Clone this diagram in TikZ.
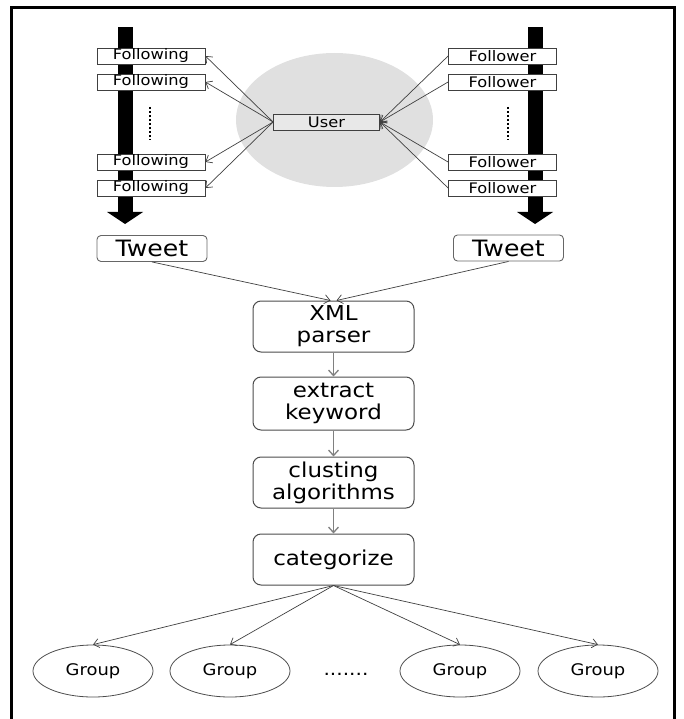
\documentclass[tikz,border=0pt]{standalone}
\usepackage{fontspec}
\setmainfont{DejaVu Sans}[FakeStretch=1.12]
\usetikzlibrary{arrows.meta,shapes.geometric}
\begin{document}
\begin{tikzpicture}[x=1pt,y=-1pt,
  smallbox/.style={draw=black!75, line width=0.8pt, fill=white, minimum width=108pt, minimum height=16pt, inner sep=0pt, font=\fontsize{14.5}{15}\selectfont},
  userbox/.style={smallbox, fill=black!9, minimum width=106pt},
  tweetbox/.style={draw=black!60, line width=0.9pt, rounded corners=4pt, fill=white, minimum width=110pt, minimum height=26pt, inner sep=0pt, font=\fontsize{22.5}{24}\selectfont},
  procbox/.style={draw=black!70, line width=1pt, rounded corners=8pt, fill=white, minimum width=161pt, minimum height=51pt, inner sep=0pt, align=center, font=\fontsize{20.5}{22}\selectfont},
  groupnode/.style={ellipse, draw=black!70, line width=0.8pt, minimum width=120pt, minimum height=52pt, inner sep=0pt, font=\fontsize{16}{17}\selectfont},
  conn/.style={draw=black!75, line width=0.7pt, -{Straight Barb[length=5.5pt,width=9pt]}},
  vconn/.style={draw=black!50, line width=1.3pt, -{Straight Barb[length=5.5pt,width=10pt]}},
  thickarrow/.style={fill=black},
  dotline/.style={line width=2.6pt, dash pattern=on 2pt off 2pt}
]
\useasboundingbox (0,0) rectangle (683,719);
% frame
\draw[line width=3pt] (11,8) rectangle (674,740);
% gray circle
\fill[black!12] (334.5,120) ellipse [x radius=98.5pt, y radius=67pt];
% thick arrows
\fill[thickarrow] (117.5,27) rectangle (132.5,212);
\fill[thickarrow] (107,212) -- (143,212) -- (125,224) -- cycle;
\fill[thickarrow] (527.5,27) rectangle (542.5,212);
\fill[thickarrow] (517,212) -- (553,212) -- (535,224) -- cycle;
% vertical dots
\draw[dotline] (150,107) -- (150,140);
\draw[dotline] (508,107) -- (508,140);
% following boxes
\node[smallbox] (fol1) at (151,56) {Following};
\node[smallbox] (fol2) at (151,82) {Following};
\node[smallbox] (fol3) at (151,162) {Following};
\node[smallbox] (fol4) at (151,188) {Following};
% follower boxes
\node[smallbox] (flw1) at (502.5,56) {Follower};
\node[smallbox] (flw2) at (502.5,82) {Follower};
\node[smallbox] (flw3) at (502.5,162) {Follower};
\node[smallbox] (flw4) at (502.5,188) {Follower};
% user
\node[userbox] (user) at (326.5,122) {User};
% tweets
\node[tweetbox] (tweetL) at (152,248.5) {Tweet};
\node[tweetbox] (tweetR) at (508.5,248) {Tweet};
% process
\node[procbox] (xml) at (333.5,326.5) {XML\\parser};
\node[procbox, minimum height=53pt] (ext) at (333.5,403.5) {extract\\keyword};
\node[procbox] (clu) at (333.5,482.5) {clusting\\algorithms};
\node[procbox] (cat) at (333.5,559.5) {categorize};
% groups
\node[groupnode] (g1) at (93,671) {Group};
\node[groupnode] (g2) at (230,671) {Group};
\node[font=\fontsize{18}{18}\selectfont, anchor=base] (gdots) at (346,675) {.......};
\node[groupnode] (g3) at (460,671) {Group};
\node[groupnode] (g4) at (598,671) {Group};
% connectors
\draw[conn] (user.west) -- (fol1.east);
\draw[conn] (user.west) -- (fol2.east);
\draw[conn] (user.west) -- (fol3.east);
\draw[conn] (user.west) -- (fol4.east);
\draw[conn] (flw1.west) -- (user.east);
\draw[conn] (flw2.west) -- (user.east);
\draw[conn] (flw3.west) -- (user.east);
\draw[conn] (flw4.west) -- (user.east);
\draw[conn] (tweetL.south) -- ([xshift=-3pt]xml.north);
\draw[conn] (tweetR.south) -- ([xshift=3pt]xml.north);
\draw[vconn] (xml.south) -- (ext.north);
\draw[vconn] (ext.south) -- (clu.north);
\draw[vconn] (clu.south) -- (cat.north);
\draw[conn] (cat.south) -- (g1.north);
\draw[conn] (cat.south) -- (g2.north);
\draw[conn] (cat.south) -- (g3.north);
\draw[conn] (cat.south) -- (g4.north);
\end{tikzpicture}
\end{document}
